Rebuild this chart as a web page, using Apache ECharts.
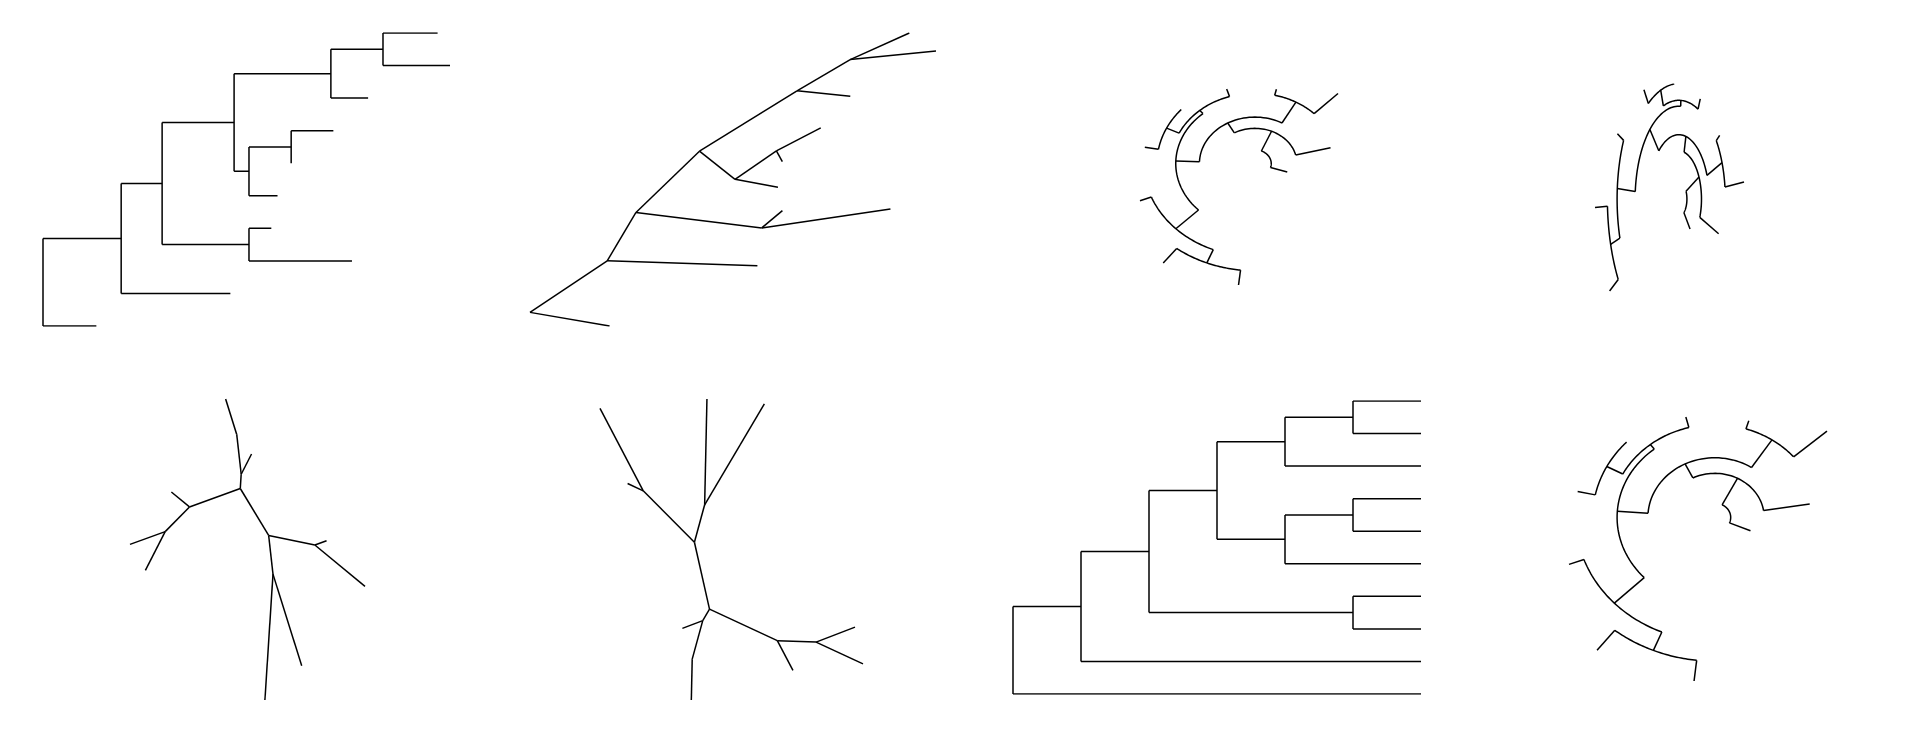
<!DOCTYPE html>
<html>
<head>
<meta charset="UTF-8">
<title>tree layouts</title>
<script src="https://cdn.jsdelivr.net/npm/echarts@6/dist/echarts.min.js"></script>
<style>html,body{margin:0;background:#fff}#main{width:1920px;height:729px}</style>
</head>
<body>
<div id="main"></div>
<script>
// tree: branch length of each node (0 = root) and ordered children
var branchLen = [0, 43, 63, 88, 33, 70, 18, 83, 58, 78, 42, 44, 54, 30, 12, 34, 34, 0, 23];
var children = [[1, 2], [], [3, 4], [], [5, 8], [7, 6], [], [], [14, 9], [13, 10], [12, 11], [], [], [], [18, 15], [17, 16], [], [], []];

// panel boxes [left, top, width, height] and layout kinds
var boxes = [
    [43, 33, 407, 293], [530, 33, 406, 293], [1140, 89, 198, 196], [1595, 84, 149, 207],
    [130, 399, 235, 301], [600, 399, 263, 301], [1013, 401, 408, 293], [1569, 417, 258, 264]
];
var kinds = ['rect', 'slant', 'circ1', 'circ2', 'unroot1', 'unroot2', 'clado', 'circ3'];

var depth = [], leafIdx = [], leaves = [], height = [];
var leafCount = 0;
function walk(n, d) {
    depth[n] = d + branchLen[n];
    if (!children[n].length) { leafIdx[n] = leafCount++; leaves[n] = 1; height[n] = 0; return; }
    leaves[n] = 0; height[n] = 0;
    children[n].forEach(function (c) {
        walk(c, depth[n]);
        leaves[n] += leaves[c];
        height[n] = Math.max(height[n], height[c] + 1);
    });
}
walk(0, 0);

function posY(n) {
    if (!children[n].length) return leafIdx[n];
    var k = children[n];
    return (posY(k[0]) + posY(k[k.length - 1])) / 2;
}

function rectSegs(xOf) {
    var segs = [];
    (function go(n) {
        var k = children[n];
        if (!k.length) return;
        segs.push([[xOf(n), posY(k[0])], [xOf(n), posY(k[k.length - 1])]]);
        k.forEach(function (c) {
            segs.push([[xOf(n), posY(c)], [xOf(c), posY(c)]]);
            go(c);
        });
    })(0);
    return segs;
}

function slantSegs(rot) {
    var segs = [], ca = Math.cos(rot), sa = Math.sin(rot);
    function p(n) {
        var x = depth[n], y = posY(n) * 22;
        return [x * ca - y * sa, x * sa + y * ca];
    }
    (function go(n) {
        children[n].forEach(function (c) { segs.push([p(n), p(c)]); go(c); });
    })(0);
    return segs;
}

function circSegs(start, span, r0) {
    var segs = [];
    function ang(n) {
        if (!children[n].length) return start + leafIdx[n] * span / (leafCount - 1);
        var k = children[n];
        return (ang(k[0]) + ang(k[k.length - 1])) / 2;
    }
    function pt(r, a) { return [r * Math.cos(a), r * Math.sin(a)]; }
    (function go(n) {
        var k = children[n];
        if (!k.length) return;
        var r = depth[n] + r0, a0 = ang(k[0]), a1 = ang(k[k.length - 1]), arc = [];
        for (var i = 0; i <= 40; i++) arc.push(pt(r, a0 + (a1 - a0) * i / 40));
        segs.push(arc);
        k.forEach(function (c) {
            segs.push([pt(r, ang(c)), pt(depth[c] + r0, ang(c))]);
            go(c);
        });
    })(0);
    return segs;
}

function unrootSegs(rot) {
    var segs = [];
    (function go(n, x, y, a0, a1) {
        var s = a0;
        children[n].forEach(function (c) {
            var w = (a1 - a0) * leaves[c] / leaves[n], m = s + w / 2, L = branchLen[c];
            var cx = x + L * Math.cos(m), cy = y + L * Math.sin(m);
            segs.push([[x, y], [cx, cy]]);
            go(c, cx, cy, s, s + w);
            s += w;
        });
    })(0, 0, 0, rot, rot + 2 * Math.PI);
    return segs;
}

function build(kind) {
    switch (kind) {
        case 'rect': return rectSegs(function (n) { return depth[n]; });
        case 'clado': return rectSegs(function (n) { return height[0] - height[n]; });
        case 'slant': return slantSegs(0.35);
        case 'circ1': return circSegs(-0.3, 4.9, 40);
        case 'circ2': return circSegs(-0.9, 4.6, 35);
        case 'circ3': return circSegs(-0.4, 5.0, 30);
        case 'unroot1': return unrootSegs(-2.0);
        case 'unroot2': return unrootSegs(0.6);
    }
}

var grids = [], xAxes = [], yAxes = [], series = [];
kinds.forEach(function (kind, i) {
    var segs = build(kind);
    var xs = [], ys = [];
    segs.forEach(function (s) { s.forEach(function (p) { xs.push(p[0]); ys.push(p[1]); }); });
    var b = boxes[i];
    grids.push({ left: b[0], top: b[1], width: b[2], height: b[3] });
    xAxes.push({ type: 'value', gridIndex: i, show: false, min: Math.min.apply(null, xs), max: Math.max.apply(null, xs) });
    yAxes.push({ type: 'value', gridIndex: i, show: false, min: Math.min.apply(null, ys), max: Math.max.apply(null, ys) });
    series.push({
        type: 'lines', coordinateSystem: 'cartesian2d', xAxisIndex: i, yAxisIndex: i,
        polyline: true, silent: true,
        lineStyle: { color: '#000', width: 1.5, opacity: 1 },
        data: segs.map(function (s) { return { coords: s }; })
    });
});

var myChart = echarts.init(document.getElementById('main'));
myChart.setOption({
    animation: false,
    backgroundColor: '#fff',
    grid: grids,
    xAxis: xAxes,
    yAxis: yAxes,
    series: series
});
</script>
</body>
</html>
